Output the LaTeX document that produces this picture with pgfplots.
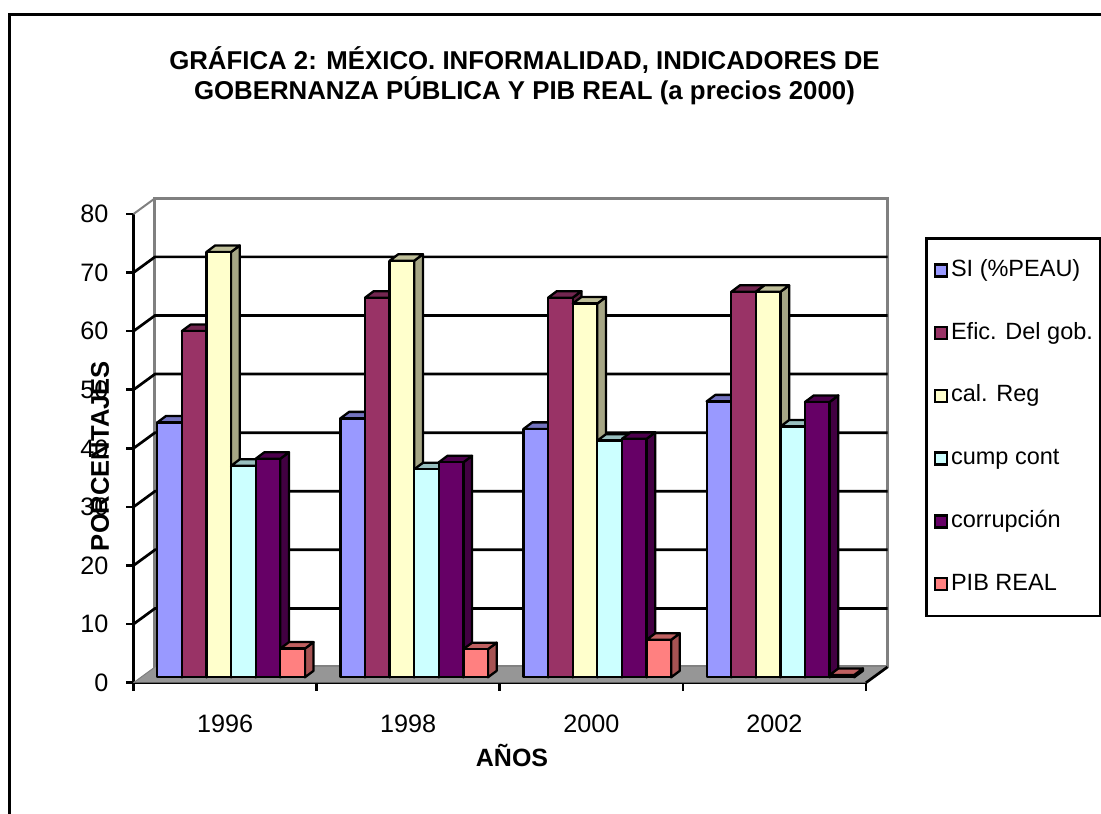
\documentclass[border=0pt]{standalone}
\usepackage{fontspec}
\setmainfont{Liberation Sans}
\usepackage{pgfplots}
\pgfplotsset{compat=1.18}
\definecolor{si}{HTML}{9999FF}\definecolor{sit}{HTML}{7373BF}\definecolor{sis}{HTML}{666699}
\definecolor{ef}{HTML}{993366}\definecolor{eft}{HTML}{732650}\definecolor{efs}{HTML}{5C1F3D}
\definecolor{ca}{HTML}{FFFFCC}\definecolor{cat}{HTML}{BFBF99}\definecolor{cas}{HTML}{A6A685}
\definecolor{cu}{HTML}{CCFFFF}\definecolor{cut}{HTML}{99BFBF}\definecolor{cus}{HTML}{85A6A6}
\definecolor{co}{HTML}{660066}\definecolor{cot}{HTML}{4D004D}\definecolor{cos}{HTML}{420042}
\definecolor{pi}{HTML}{FF8080}\definecolor{pit}{HTML}{BF6060}\definecolor{pis}{HTML}{A65353}
\definecolor{floorg}{HTML}{969696}
% #1 group, #2 series index, #3 value, #4 colour name
\newcommand\tbar[4]{%
  \pgfmathsetmacro\xl{#1+0.13+#2*0.1343}%
  \pgfmathsetmacro\xr{\xl+0.1343}%
  \pgfmathsetmacro\xlb{\xl+0.0475}%
  \pgfmathsetmacro\xrb{\xr+0.0475}%
  \pgfmathsetmacro\yt{#3+0.92}%
  \pgfmathsetmacro\ytb{\yt+1.11}%
  \addplot[forget plot,fill=#4s,draw=black,line width=2.3pt,line join=round] coordinates {(\xr,0.92)(\xrb,2.03)(\xrb,\ytb)(\xr,\yt)} -- cycle;
  \addplot[forget plot,fill=#4t,draw=black,line width=2.3pt,line join=round] coordinates {(\xl,\yt)(\xlb,\ytb)(\xrb,\ytb)(\xr,\yt)} -- cycle;
  \addplot[forget plot,fill=#4,draw=black,line width=2.3pt,line join=round] coordinates {(\xl,0.92)(\xl,\yt)(\xr,\yt)(\xr,0.92)} -- cycle;
}
\newcommand\grid[1]{%
  \pgfmathsetmacro\yg{#1+2.68}%
  \addplot[forget plot,black,line width=2.7pt] coordinates {(0,#1)(0.1174,\yg)(4.1174,\yg)};
}
\begin{document}
\begin{tikzpicture}[x=1pt,y=1pt]
\path[use as bounding box] (0,0) rectangle (1101,814);
\draw[line width=3pt,black] (1101,799)--(9.5,799)--(9.5,0);
\begin{axis}[
  at={(133.5pt,131.3pt)},anchor=south west,
  scale only axis,width=732.5pt,height=468.7pt,
  xmin=0,xmax=4,ymin=0,ymax=80,clip=false,
  axis x line*=bottom,axis y line*=left,
  axis line style={line width=2.6pt,black,-},
  xtick={0.5,1.5,2.5,3.5},xticklabels={1996,1998,2000,2002},
  major x tick style={draw=none},
  minor xtick={0,1,2,3,4},
  ytick={0,10,...,80},
  tick align=outside,
  minor tick length=8pt,major tick length=7pt,
  tick style={line width=2.6pt,black},
  minor tick style={line width=2.6pt,black},
  /pgf/number format/assume math mode=true,
  tick label style={font=\fontsize{25.2}{28}\selectfont},
  yticklabel style={inner sep=0pt,xshift=-18pt},
  xticklabel style={inner sep=0pt,yshift=-25pt},
  title={GRÁFICA 2: MÉXICO. INFORMALIDAD, INDICADORES DE\\GOBERNANZA PÚBLICA Y PIB REAL (a precios 2000)},
  title style={font=\fontsize{25.8}{30}\selectfont\bfseries,align=center,anchor=center,at={(axis description cs:0.5338,1.2816)}},
  xlabel={AÑOS},ylabel={PORCENTAJES},
  xlabel style={font=\fontsize{25}{28}\selectfont\bfseries,anchor=center,at={(axis description cs:0.5168,-0.1543)}},
  ylabel style={font=\fontsize{25.6}{28}\selectfont\bfseries,anchor=center,at={(axis description cs:-0.0457,0.4837)}},
  legend style={at={(925.3pt-133.5pt,682.7pt-237.3pt)},anchor=north west,
    draw=black,line width=2.5pt,fill=white,
    font=\fontsize{23.5}{28}\selectfont,
    inner xsep=7pt,inner ysep=20pt,row sep=38.7pt,
    nodes={inner sep=0pt,text height=18pt,text depth=6pt}},
  legend cell align=left,
  legend image code/.code={\draw[#1,draw=black,line width=2.5pt] (1pt,-6pt) rectangle (13pt,6pt);\path (16pt,0pt);},
]
% walls and floor
\addplot[forget plot,fill=white,draw=gray,line width=3pt] coordinates {(0.1174,2.68)(0.1174,82.68)(4.1174,82.68)(4.1174,2.68)} -- cycle;
\addplot[forget plot,fill=floorg,draw=none] coordinates {(0,0)(0.1174,2.68)(4.1174,2.68)(4,0)} -- cycle;
\addplot[forget plot,black,line width=2.7pt] coordinates {(4,0)(4.1174,2.68)};
\addplot[forget plot,gray,line width=2pt] coordinates {(0,80)(0.1174,82.68)};
\addplot[forget plot,gray,line width=1pt] coordinates {(0,0)(0.1174,2.68)};
\grid{10}\grid{20}\grid{30}\grid{40}\grid{50}\grid{60}\grid{70}
% bars
\tbar{0}{0}{43.5}{si}\tbar{0}{1}{59.1}{ef}\tbar{0}{2}{72.6}{ca}\tbar{0}{3}{36.1}{cu}\tbar{0}{4}{37.3}{co}\tbar{0}{5}{4.9}{pi}
\tbar{1}{0}{44.2}{si}\tbar{1}{1}{64.8}{ef}\tbar{1}{2}{71.1}{ca}\tbar{1}{3}{35.5}{cu}\tbar{1}{4}{36.7}{co}\tbar{1}{5}{4.8}{pi}
\tbar{2}{0}{42.4}{si}\tbar{2}{1}{64.8}{ef}\tbar{2}{2}{63.8}{ca}\tbar{2}{3}{40.4}{cu}\tbar{2}{4}{40.7}{co}\tbar{2}{5}{6.4}{pi}
\tbar{3}{0}{47.1}{si}\tbar{3}{1}{65.8}{ef}\tbar{3}{2}{65.8}{ca}\tbar{3}{3}{42.8}{cu}\tbar{3}{4}{47.0}{co}\tbar{3}{5}{0.4}{pi}
\addlegendimage{fill=si}\addlegendentry{SI (\%PEAU)}
\addlegendimage{fill=ef}\addlegendentry{Efic. Del gob.}
\addlegendimage{fill=ca}\addlegendentry{cal. Reg}
\addlegendimage{fill=cu}\addlegendentry{cump cont}
\addlegendimage{fill=co}\addlegendentry{corrupción}
\addlegendimage{fill=pi}\addlegendentry{PIB REAL}
\end{axis}
\end{tikzpicture}
\end{document}
